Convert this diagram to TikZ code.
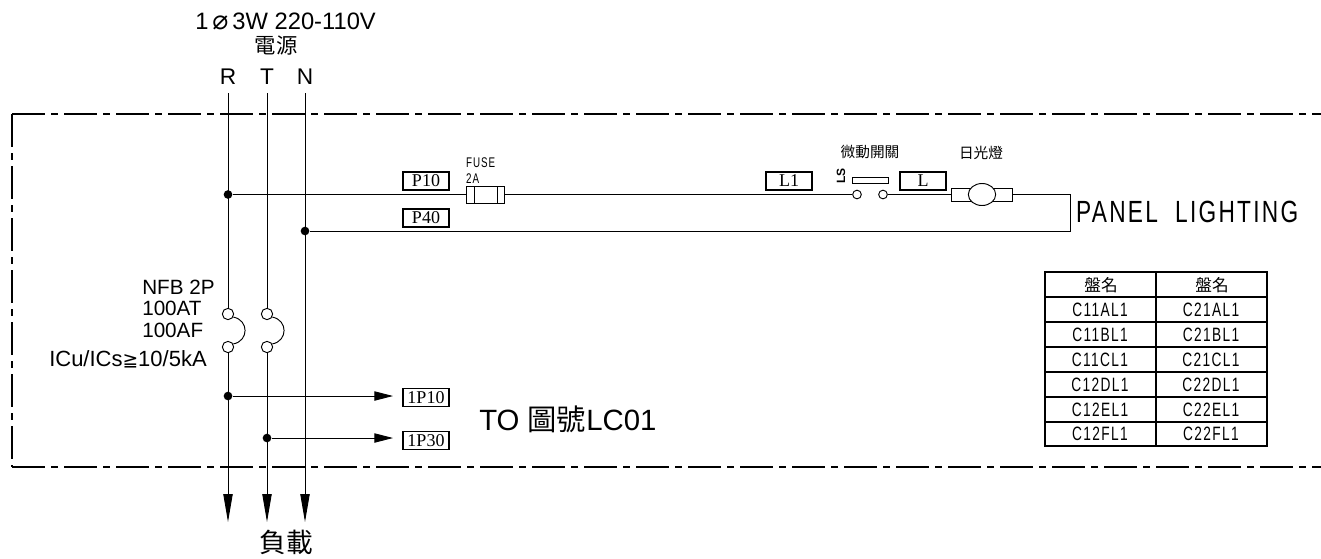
\documentclass[tikz,border=0pt]{standalone}
\usepackage{fontspec}
\setmainfont{Liberation Sans}
\newfontfamily\cjkfont{Noto Sans CJK TC}
\newfontfamily\tagfont{Liberation Serif}
\newfontfamily\symfont{DejaVu Sans}
\newfontfamily\cadfont[LetterSpace=10]{Liberation Sans}
\usetikzlibrary{arrows.meta}
\usetikzlibrary{shapes.geometric}
\tikzstyle{wire} = [draw=black, line width=0.7pt]
\tikzstyle{frame} = [draw=black, line width=0.8pt, dash pattern=on 24.75pt off 4.5pt on 5.25pt off 4.5pt]
\tikzstyle{tag} = [rectangle, draw=black, line width=0.8pt, minimum width=34.5pt, minimum height=13.5pt, inner sep=0pt, font=\tagfont\fontsize{13.5}{13.5}\selectfont]
\tikzstyle{dot} = [circle, fill=black, inner sep=0pt, minimum size=6.5pt]
\tikzstyle{pole} = [circle, draw=black, fill=white, line width=0.7pt, inner sep=0pt, minimum size=8.5pt]
\tikzstyle{contact} = [circle, draw=black, fill=white, line width=0.7pt, inner sep=0pt, minimum size=6.5pt]
\tikzstyle{label} = [inner sep=0pt, font=\fontsize{15.5}{15.5}\selectfont]
\tikzstyle{phase} = [inner sep=0pt, font=\fontsize{17}{17}\selectfont]
\tikzstyle{cell} = [inner sep=0pt, xscale=0.71, font=\cadfont\fontsize{14.5}{14.5}\selectfont]
\tikzstyle{small} = [inner sep=0pt, anchor=west, xscale=0.7, font=\cadfont\fontsize{10.5}{10.5}\selectfont]
\tikzstyle{head} = [-{Triangle[length=21pt,width=7pt]}]
\tikzstyle{shorthead} = [-{Triangle[length=14pt,width=7pt]}]

\begin{document}
\begin{tikzpicture}[x=0.75pt, y=-0.75pt]
    \useasboundingbox (0, 0) rectangle (1321, 558);

    % panel outline
    \draw[frame] (12, 114) -- (1321, 114);
    \draw[frame] (12, 114) -- (12, 467);
    \draw[frame] (12, 467) -- (1321, 467);

    % supply
    \node (supply) [phase, anchor=west, font=\fontsize{17.8}{17.8}\selectfont] at (195, 21) {1\,{\symfont\fontsize{20}{17}\selectfont ⌀}\,3W 220-110V};
    \node (source) [phase, font=\cjkfont\fontsize{16}{16}\selectfont] at (276, 46) {電源};
    \node (Rname) [phase] at (228, 77) {R};
    \node (Tname) [phase] at (267, 77) {T};
    \node (Nname) [phase] at (305, 77) {N};
    \coordinate (Rtop) at (228, 93);
    \coordinate (Ttop) at (267, 93);
    \coordinate (Ntop) at (305, 93);
    \coordinate (Rend) at (228, 522);
    \coordinate (Tend) at (267, 522);
    \coordinate (Nend) at (305, 522);

    % breaker
    \node (Rp1) [pole] at (228, 314) {};
    \node (Rp2) [pole] at (228, 347) {};
    \node (Tp1) [pole] at (267, 314) {};
    \node (Tp2) [pole] at (267, 347) {};
    \draw[wire] (Rtop) -- (Rp1);
    \draw[wire, head] (Rp2) -- (Rend);
    \draw[wire] (Ttop) -- (Tp1);
    \draw[wire, head] (Tp2) -- (Tend);
    \draw[wire, head] (Ntop) -- (Nend);
    \draw[wire] (Rp1.-30) .. controls (249, 320) and (249, 341) .. (Rp2.30);
    \draw[wire] (Tp1.-30) .. controls (288, 320) and (288, 341) .. (Tp2.30);
    \node (nfba) [label, anchor=west] at (142, 287) {NFB 2P};
    \node (nfbb) [label, anchor=west] at (142, 308) {100AT};
    \node (nfbc) [label, anchor=west] at (142, 330) {100AF};
    \node (nfbd) [label, anchor=east, font=\fontsize{16.5}{16.5}\selectfont] at (207, 359) {ICu/ICs{\symfont\fontsize{14}{14}\selectfont ≧}10/5kA};

    % lighting circuit
    \node (Rdot) [dot] at (228, 194.5) {};
    \node (Ndot) [dot] at (305, 231) {};
    \node (fuse) [rectangle, draw=black, line width=0.7pt, minimum width=29pt, minimum height=12.75pt, inner sep=0pt] at (485.5, 194.5) {};
    \draw[line width=0.7pt] (474, 186) -- (474, 203);
    \draw[line width=0.7pt] (497, 186) -- (497, 203);
    \node (fusea) [small] at (466, 163) {FUSE};
    \node (fuseb) [small] at (466, 179) {2A};
    \node (P10) [tag] at (426, 181) {P10};
    \node (P40) [tag] at (426, 218) {P40};
    \node (L1) [tag] at (789, 181) {L1};
    \node (Ltag) [tag] at (923, 181) {L};
    \node (sw1) [contact] at (857, 194.5) {};
    \node (sw2) [contact] at (883, 194.5) {};
    \node (swbar) [rectangle, draw=black, line width=0.7pt, minimum width=27pt, minimum height=4.5pt, inner sep=0pt] at (870, 180) {};
    \node (swname) [inner sep=0pt, rotate=90, font=\fontsize{9}{9}\selectfont\bfseries] at (841, 176) {LS};
    \node (swtext) [inner sep=0pt, font=\cjkfont\fontsize{11}{11}\selectfont] at (870, 152) {微動開關};
    \node (lamp) [rectangle, draw=black, line width=0.7pt, minimum width=45.75pt, minimum height=9.75pt, inner sep=0pt] at (981.5, 194.5) {};
    \node (tube) [ellipse, draw=black, fill=white, line width=0.7pt, minimum width=20.5pt, minimum height=16.5pt, inner sep=0pt] at (982, 194.5) {};
    \node (lamptext) [inner sep=0pt, font=\cjkfont\fontsize{11}{11}\selectfont] at (981, 153) {日光燈};
    \coordinate (cornerA) at (1070, 194.5);
    \coordinate (cornerB) at (1070, 231);
    \draw[wire] (Rdot) -- (fuse);
    \draw[wire] (fuse) -- (sw1);
    \draw[wire] (sw2) -- (lamp);
    \draw[wire] (lamp) -- (cornerA) -- (cornerB) -- (Ndot);
    \node (panel) [inner sep=0pt, anchor=west, xscale=0.74, font=\cadfont\fontsize{23}{23}\selectfont] at (1076, 212) {PANEL\ \ LIGHTING};

    % outgoing
    \node (Rout) [dot] at (228, 396) {};
    \node (Tout) [dot] at (267, 438) {};
    \coordinate (Rtip) at (393, 396);
    \coordinate (Ttip) at (393, 438);
    \draw[wire, shorthead] (Rout) -- (Rtip);
    \draw[wire, shorthead] (Tout) -- (Ttip);
    \node (1P10) [tag] at (426, 397.5) {1P10};
    \node (1P30) [tag] at (426, 440.5) {1P30};
    \node (toLC) [inner sep=0pt, anchor=west, font=\fontsize{22}{22}\selectfont] at (479, 419) {TO {\cjkfont 圖號}LC01};
    \node (load) [inner sep=0pt, font=\cjkfont\fontsize{20}{20}\selectfont] at (286, 542) {負載};

    % table
    \draw[line width=0.8pt] (1045, 272) rectangle (1267, 446);
    \draw[line width=0.8pt] (1156, 272) -- (1156, 446);
    \foreach \y in {297, 322, 347, 372, 397, 422}
        \draw[line width=0.8pt] (1045, \y) -- (1267, \y);
    \node (headA) [inner sep=0pt, font=\cjkfont\fontsize{12.5}{12.5}\selectfont] at (1101, 285) {盤名};
    \node (headB) [inner sep=0pt, font=\cjkfont\fontsize{12.5}{12.5}\selectfont] at (1212, 285) {盤名};
    \foreach \nameA/\nameB/\y in {C11AL1/C21AL1/310, C11BL1/C21BL1/335, C11CL1/C21CL1/360, C12DL1/C22DL1/385, C12EL1/C22EL1/410, C12FL1/C22FL1/434}
    {
        \node (\nameA) [cell] at (1100, \y) {\nameA};
        \node (\nameB) [cell] at (1211, \y) {\nameB};
    }

\end{tikzpicture}
\end{document}
